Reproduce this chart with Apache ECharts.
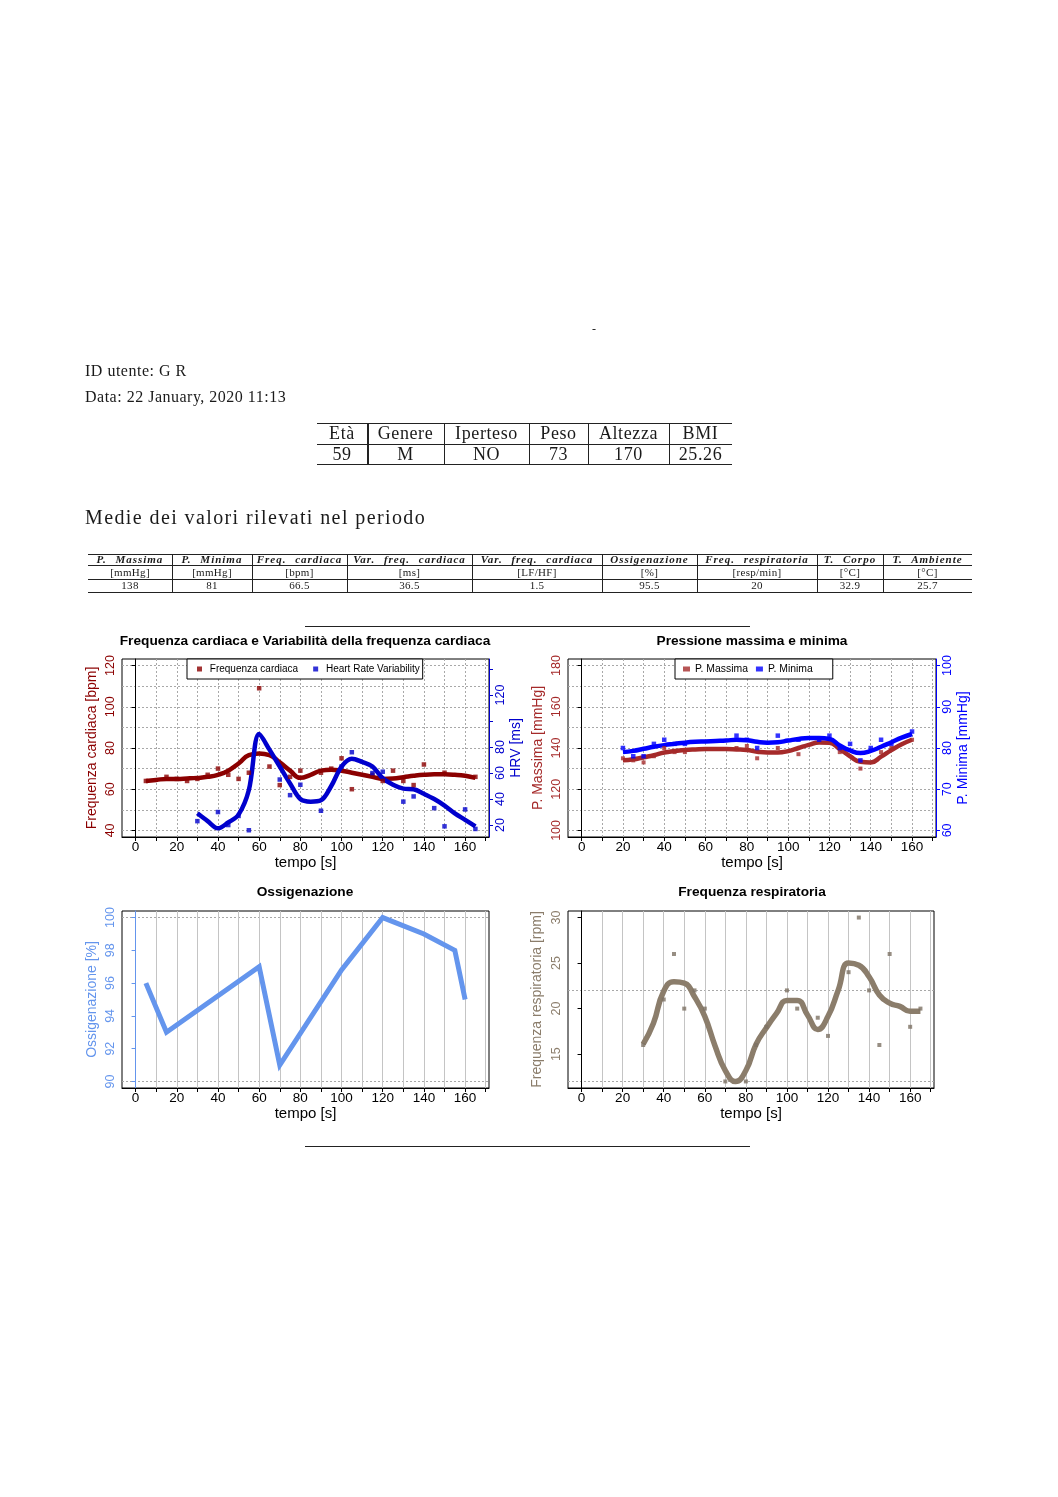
<!DOCTYPE html>
<html><head><meta charset="utf-8">
<script src="https://cdn.jsdelivr.net/npm/echarts@6/dist/echarts.min.js"></script>
<style>
html,body{margin:0;padding:0;background:#fff;}
#page{position:relative;width:1058px;height:1497px;overflow:hidden;background:#fff;}
#chart{position:absolute;left:0;top:0;width:1058px;height:1497px;}
.ov{position:absolute;pointer-events:none;}
.serif{font-family:'Liberation Serif','Times New Roman',serif;color:#1a1a1a;white-space:nowrap;}
.hl{position:absolute;background:#222;height:1px;}
.vl{position:absolute;background:#222;width:1px;}
.cell{position:absolute;text-align:center;white-space:nowrap;font-family:'Liberation Serif','Times New Roman',serif;color:#1a1a1a;}
</style></head>
<body><div id="page"><div id="chart"></div><div id="overlay" class="ov" style="left:0;top:0;width:1058px;height:1497px;z-index:5;"></div></div>
<script>
// ---------- DATA ----------
const userId = 'ID utente: G R';
const dateText = 'Data: 22 January, 2020 11:13';
const profileHeaders = ['Età','Genere','Iperteso','Peso','Altezza','BMI'];
const profileValues = ['59','M','NO','73','170','25.26'];
const sectionTitle = 'Medie dei valori rilevati nel periodo';
const meanHeaders = ['P. Massima','P. Minima','Freq. cardiaca','Var. freq. cardiaca','Var. freq. cardiaca','Ossigenazione','Freq. respiratoria','T. Corpo','T. Ambiente'];
const meanUnits = ['[mmHg]','[mmHg]','[bpm]','[ms]','[LF/HF]','[%]','[resp/min]','[°C]','[°C]'];
const meanValues = ['138','81','66.5','36.5','1.5','95.5','20','32.9','25.7'];

const xTicks = [0,10,20,30,40,50,60,70,80,90,100,110,120,130,140,150,160,170];
const xLabels = [0,20,40,60,80,100,120,140,160];

// Chart 1: heart rate and HRV
const hrTime   = [5,15,20,25,30,35,40,45,50,55,60,65,70,75,80,90,95,100,105,115,120,125,130,135,140,150,165];
const hrValues = [64,66,65,64,65,67,70,67,65,68,109,71,62,66,69,68,70,75,60,67,64,69,64,62,72,68,66];
const hrFitTime = [5,10,15,20,25,30,35,40,45,50,55,60,65,70,75,80,85,90,95,100,105,110,115,120,125,130,135,140,145,150,155,160,165];
const hrFit     = [64,64.5,65,65,65.2,65.5,66,67,69,72.5,76.5,77.3,76.5,73,69,65.5,67,69,69.5,69,68,67,66,65,65.2,65.8,66.5,67,67.2,67.2,67,66.5,65.5];
const hrvTime   = [30,40,45,50,55,70,75,80,90,100,105,115,120,130,135,145,150,160,165];
const hrvValues = [23,30,20,27,16,55,43,51,31,65,76,60,61,38,42,33,19,32,17];
const hrvFitTime = [30,35,40,45,50,55,60,65,70,75,80,85,90,95,100,105,110,115,120,125,130,135,140,145,150,155,160,165];
const hrvFit     = [29,23,17.5,22,28,47,90,78,65,52,40,38,39,50,65,71,68.5,65,56,51,48,47.5,44,40,35,29,24,19];
const hrTicks = [40,60,80,100,120];
const hrvTicks = [20,40,60,80,100,120,140];
const hrvLabels = [20,40,60,80,120];
const hrGrid = [40,50,60,70,80,90,100,110,120];

// Chart 2: blood pressure
const pMaxTime   = [20,25,30,35,40,45,50,75,80,85,95,105,115,125,135,145,150,160];
const pMaxValues = [135,134,133,136,140,138,138,140,141,135,140,137,143,138,130,138,140,144];
const pMaxFitTime = [20,25,30,35,40,45,50,55,60,65,70,75,80,85,90,95,100,105,110,115,120,125,130,135,140,145,150,155,160];
const pMaxFit     = [134,134.5,135.5,136.5,137.8,138.5,139,139.3,139.5,139.5,139.5,139.3,139,138.2,137.8,137.8,138.5,140,141.5,142.7,142.5,139.5,136,133.3,133,135.8,139,141.8,144];
const pMinTime   = [20,25,30,35,40,45,50,75,80,85,95,105,115,120,125,130,135,140,145,150,160];
const pMinValues = [80,78,78,81,82,81,81,83,82,80,83,82,82,83,80,81,77,80,82,81,84];
const pMinFitTime = [20,25,30,35,40,45,50,55,60,65,70,75,80,85,90,95,100,105,110,115,120,125,130,135,140,145,150,155,160];
const pMinFit     = [79,79.3,79.8,80.3,80.7,81,81.3,81.5,81.6,81.7,81.8,82,81.9,81.5,81.3,81.4,81.8,82.2,82.4,82.4,82.2,80.6,79.4,78.8,79.3,80.3,81.4,82.5,83.4];
const pMaxTicks = [100,120,140,160,180];
const pMinTicks = [60,70,80,90,100];
const pGrid = [100,110,120,130,140,150,160,170,180];

// Chart 3: oxygenation
const oxTime   = [5,15,60,70,100,120,140,155,160];
const oxValues = [96,93,97,91,96.8,100,99,98,95];
const oxTicks = [90,92,94,96,98,100];
const oxGrid = [90,100];

// Chart 4: respiratory rate
const rrTime   = [30,40,45,50,55,60,70,80,85,90,100,105,115,120,130,135,140,145,150,160,165];
const rrValues = [16,21,26,20,22,20,12,12,16,18,22,20,19,17,24,30,22,16,26,18,20];
const rrFitTime = [30,35,40,45,50,55,60,65,70,75,80,85,90,95,100,105,110,115,120,125,130,135,140,145,150,155,160,165];
const rrFit     = [16.1,18.4,21.9,22.95,22.8,21.3,19.15,15.9,13.2,12.0,13.2,16.1,17.9,19.5,20.9,20.9,19.3,17.7,19.15,22.05,25.0,24.76,23.5,21.5,20.6,20.24,19.7,19.7];
const rrTicks = [15,20,25,30];
const rrGrid = [12,22];

// ---------- COLOURS ----------
const C_HR = '#8B0000', C_HRV = '#0000CD', C_PMAX = '#A52A2A', C_PMIN = '#0000FF', C_OX = '#6495ED', C_RR = '#8B7D6B';
const SANS = "'Liberation Sans', Arial, Helvetica, sans-serif";

// ---------- HTML TEXT / TABLES ----------
const ov = document.getElementById('overlay');
function add(html, style, cls){ const d=document.createElement('div'); d.className=cls||''; d.style.cssText=style; d.innerHTML=html; ov.appendChild(d); return d; }
function hline(x1,x2,y,h){ add('', `left:${x1}px;top:${y}px;width:${x2-x1}px;height:${h||1}px;`, 'hl'); }
function vline(x,y1,y2,w){ add('', `left:${x}px;top:${y1}px;height:${y2-y1}px;width:${w||1}px;`, 'vl'); }

add('-', 'position:absolute;left:592px;top:322px;font-size:12px;line-height:14px;', 'serif');
add(userId, 'position:absolute;left:85px;top:362px;font-size:16px;line-height:18px;letter-spacing:0.5px;', 'serif');
add(dateText, 'position:absolute;left:85px;top:388px;font-size:16px;line-height:18px;letter-spacing:0.5px;', 'serif');

// profile table
const t1Edges = [317,367,444,529,588,669,732];
hline(317,732,423); hline(317,732,444); hline(317,732,464);
for (let i=1;i<t1Edges.length-1;i++) vline(t1Edges[i],423,465, i===1?2:1);
profileHeaders.forEach((h,i)=>{
  add(h, `left:${t1Edges[i]}px;width:${t1Edges[i+1]-t1Edges[i]}px;top:423px;height:21px;line-height:21px;font-size:18px;letter-spacing:0.6px;`, 'cell');
  add(profileValues[i], `left:${t1Edges[i]}px;width:${t1Edges[i+1]-t1Edges[i]}px;top:444px;height:20px;line-height:20px;font-size:18px;letter-spacing:0.6px;`, 'cell');
});

add(sectionTitle, 'position:absolute;left:85px;top:505px;font-size:20px;line-height:24px;letter-spacing:1.4px;', 'serif');

// means table
const t2Edges = [88,172,252,347,472,602,697,817,883,972];
hline(88,972,554); hline(88,972,565); hline(88,972,579); hline(88,972,592);
for (let i=1;i<t2Edges.length-1;i++) vline(t2Edges[i],554,593);
meanHeaders.forEach((h,i)=>{
  const l=t2Edges[i], w=t2Edges[i+1]-t2Edges[i];
  add(h, `left:${l}px;width:${w}px;top:554px;height:11px;line-height:11px;font-size:11px;font-weight:bold;font-style:italic;letter-spacing:1px;word-spacing:5px;`, 'cell');
  add(meanUnits[i], `left:${l}px;width:${w}px;top:566px;height:13px;line-height:13px;font-size:11px;letter-spacing:0.3px;`, 'cell');
  add(meanValues[i], `left:${l}px;width:${w}px;top:579px;height:13px;line-height:13px;font-size:11px;letter-spacing:0.3px;`, 'cell');
});

hline(305,750,626);
hline(305,750,1146);

// ---------- ECHARTS ----------
function pairs(xs, ys){ return xs.map((x,i)=>[x, ys[i]]); }

const grids = [
  {left:122, top:659, width:367, height:178},
  {left:568, top:659, width:368, height:178},
  {left:122, top:911, width:367, height:177},
  {left:568, top:911, width:366, height:177}
].map(g=>Object.assign(g,{show:true, borderColor:'#000', borderWidth:1, backgroundColor:'transparent', containLabel:false}));

function xAxis(gi, solidGrid){
  return {type:'value', gridIndex:gi, min:-6.6, max:171.6,
    axisLine:{show:true, lineStyle:{color:'#000', width:1}},
    axisTick:{show:true, customValues:xTicks, length:4, lineStyle:{color:'#000'}},
    axisLabel:{show:true, customValues:xLabels, fontSize:13.5, color:'#000', margin:3, fontFamily:SANS},
    splitLine:{show:true, lineStyle: solidGrid ? {color:'#c4c4c4', width:1, type:'solid'} : {color:'#a8a8a8', width:1, type:[2,2]}},
    name:'tempo [s]', nameLocation:'middle', nameGap:17, nameTextStyle:{fontSize:15, color:'#000', fontFamily:SANS}};
}
function yAxis(gi, pos, min, max, ticks, labels, color, lineColor, name, nameGap){
  return {type:'value', gridIndex:gi, position:pos, min:min, max:max,
    axisLine:{show:true, lineStyle:{color:lineColor, width:1}},
    axisTick:{show:true, customValues:ticks, length:4, lineStyle:{color:lineColor}},
    axisLabel:{show:true, customValues:labels, rotate:90, fontSize:12.5, color:color, margin:5, fontFamily:SANS},
    splitLine:{show:false},
    name:name, nameLocation:'middle', nameRotate:90, nameGap:nameGap, nameTextStyle:{fontSize:14, color:color, fontFamily:SANS}};
}
function gridAxis(gi, min, max, vals, solid){
  return {type:'value', gridIndex:gi, position:'left', min:min, max:max,
    axisLine:{show:false}, axisTick:{show:false, customValues:vals}, axisLabel:{show:false, customValues:vals},
    splitLine:{show:true, lineStyle: solid ? {color:'#c4c4c4', width:1, type:'solid'} : {color:'#a8a8a8', width:1, type:[2,2]}}};
}

const option = {
  animation:false,
  backgroundColor:'transparent',
  textStyle:{fontFamily:SANS},
  grid: grids,
  xAxis: [xAxis(0,false), xAxis(1,false), xAxis(2,true), xAxis(3,true)],
  yAxis: [
    yAxis(0,'left',36.8,123.2,hrTicks,hrTicks,C_HR,'#000','Frequenza cardiaca [bpm]',23),
    yAxis(0,'right',10.8,147.7,hrvTicks,hrvLabels,C_HRV,C_HRV,'HRV [ms]',20),
    gridAxis(0,36.8,123.2,hrGrid,false),
    yAxis(1,'left',96.8,183.2,pMaxTicks,pMaxTicks,C_PMAX,'#000','P. Massima [mmHg]',23),
    yAxis(1,'right',58.4,101.6,pMinTicks,pMinTicks,C_PMIN,C_PMIN,'P. Minima [mmHg]',20),
    gridAxis(1,96.8,183.2,pGrid,false),
    yAxis(2,'left',89.6,100.4,oxTicks,oxTicks,C_OX,C_OX,'Ossigenazione [%]',23),
    gridAxis(2,89.6,100.4,oxGrid,false),
    yAxis(3,'left',11.28,30.72,rrTicks,rrTicks,C_RR,'#000','Frequenza respiratoria [rpm]',24),
    gridAxis(3,11.28,30.72,rrGrid,false)
  ],
  legend: [
    {data:[{name:'Frequenza cardiaca',icon:'rect'},{name:'Heart Rate Variability',icon:'rect'}],
     left:187, top:659, orient:'horizontal', itemWidth:5, itemHeight:5, itemGap:15, padding:[5,3,5,10],
     borderColor:'#000', borderWidth:1, borderRadius:0, backgroundColor:'#fff', selectedMode:false,
     formatter:' {name}', textStyle:{fontSize:10, color:'#000', fontFamily:SANS}},
    {data:[{name:'P. Massima',icon:'rect'},{name:'P. Minima',icon:'rect'}],
     left:675, top:659, orient:'horizontal', itemWidth:7, itemHeight:5, itemGap:8, padding:[5,20,5,8],
     borderColor:'#000', borderWidth:1, borderRadius:0, backgroundColor:'#fff', selectedMode:false,
     textStyle:{fontSize:10.4, color:'#000', fontFamily:SANS}}
  ],
  graphic: [
    {type:'text', x:305, y:641, style:{text:'Frequenza cardiaca e Variabilità della frequenza cardiaca', align:'center', verticalAlign:'middle', textAlign:'center', textVerticalAlign:'middle', fontSize:13.7, fontWeight:'bold', fontFamily:SANS, fill:'#000'}},
    {type:'text', x:752, y:641, style:{text:'Pressione massima e minima', align:'center', verticalAlign:'middle', textAlign:'center', textVerticalAlign:'middle', fontSize:13.7, fontWeight:'bold', fontFamily:SANS, fill:'#000'}},
    {type:'text', x:305, y:892, style:{text:'Ossigenazione', align:'center', verticalAlign:'middle', textAlign:'center', textVerticalAlign:'middle', fontSize:13.7, fontWeight:'bold', fontFamily:SANS, fill:'#000'}},
    {type:'text', x:752, y:892, style:{text:'Frequenza respiratoria', align:'center', verticalAlign:'middle', textAlign:'center', textVerticalAlign:'middle', fontSize:13.7, fontWeight:'bold', fontFamily:SANS, fill:'#000'}}
  ],
  series: [
    {type:'scatter', name:'Frequenza cardiaca', xAxisIndex:0, yAxisIndex:0, data:pairs(hrTime,hrValues), symbol:'rect', symbolSize:4.5, itemStyle:{color:C_HR}, z:3},
    {type:'line', name:'Frequenza cardiaca', xAxisIndex:0, yAxisIndex:0, data:pairs(hrFitTime,hrFit), smooth:0.5, showSymbol:false, symbol:'none', lineStyle:{width:4.5, color:C_HR}, itemStyle:{color:C_HR}, z:2},
    {type:'scatter', name:'Heart Rate Variability', xAxisIndex:0, yAxisIndex:1, data:pairs(hrvTime,hrvValues), symbol:'rect', symbolSize:4.5, itemStyle:{color:C_HRV}, z:3},
    {type:'line', name:'Heart Rate Variability', xAxisIndex:0, yAxisIndex:1, data:pairs(hrvFitTime,hrvFit), smooth:0.35, showSymbol:false, symbol:'none', lineStyle:{width:4.5, color:C_HRV}, itemStyle:{color:C_HRV}, z:2},

    {type:'scatter', name:'P. Massima', xAxisIndex:1, yAxisIndex:3, data:pairs(pMaxTime,pMaxValues), symbol:'rect', symbolSize:4, itemStyle:{color:C_PMAX}, z:3},
    {type:'line', name:'P. Massima', xAxisIndex:1, yAxisIndex:3, data:pairs(pMaxFitTime,pMaxFit), smooth:0.5, showSymbol:false, symbol:'none', lineStyle:{width:4.5, color:C_PMAX}, itemStyle:{color:C_PMAX}, z:2},
    {type:'scatter', name:'P. Minima', xAxisIndex:1, yAxisIndex:4, data:pairs(pMinTime,pMinValues), symbol:'rect', symbolSize:4.5, itemStyle:{color:C_PMIN}, z:3},
    {type:'line', name:'P. Minima', xAxisIndex:1, yAxisIndex:4, data:pairs(pMinFitTime,pMinFit), smooth:0.5, showSymbol:false, symbol:'none', lineStyle:{width:4.5, color:C_PMIN}, itemStyle:{color:C_PMIN}, z:2},

    {type:'line', name:'Ossigenazione', xAxisIndex:2, yAxisIndex:6, data:pairs(oxTime,oxValues), smooth:false, showSymbol:false, symbol:'none', lineStyle:{width:5, color:C_OX, join:'miter'}, itemStyle:{color:C_OX}},

    {type:'scatter', name:'Frequenza respiratoria', xAxisIndex:3, yAxisIndex:8, data:pairs(rrTime,rrValues), symbol:'rect', symbolSize:4, itemStyle:{color:'#7d7264'}, z:3},
    {type:'line', name:'Frequenza respiratoria fit', xAxisIndex:3, yAxisIndex:8, data:pairs(rrFitTime,rrFit), smooth:0.5, showSymbol:false, symbol:'none', lineStyle:{width:5.5, color:C_RR}, itemStyle:{color:C_RR}, z:2}
  ]
};
const chart = echarts.init(document.getElementById('chart'), null, {renderer:'canvas'});
chart.setOption(option);
</script></body></html>
